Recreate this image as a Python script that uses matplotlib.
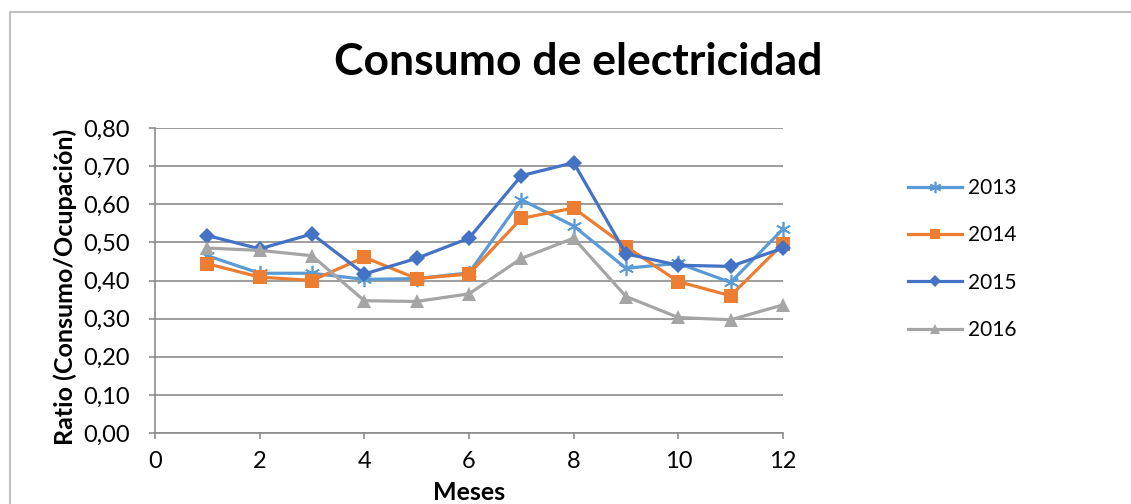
import matplotlib
matplotlib.use("Agg")
import matplotlib.pyplot as plt
from matplotlib.lines import Line2D
from matplotlib.ticker import FuncFormatter, MultipleLocator

# ---- data ----
months = [1, 2, 3, 4, 5, 6, 7, 8, 9, 10, 11, 12]
s2013 = [0.465, 0.419, 0.419, 0.403, 0.405, 0.420, 0.612, 0.543, 0.432, 0.445, 0.395, 0.535]
s2014 = [0.444, 0.409, 0.400, 0.461, 0.405, 0.417, 0.563, 0.590, 0.489, 0.397, 0.360, 0.496]
s2015 = [0.518, 0.483, 0.522, 0.417, 0.458, 0.511, 0.675, 0.709, 0.470, 0.440, 0.437, 0.485]
s2016 = [0.485, 0.479, 0.465, 0.347, 0.345, 0.365, 0.458, 0.511, 0.358, 0.303, 0.297, 0.336]
series_labels = ["2013", "2014", "2015", "2016"]
title = "Consumo de electricidad"
xlabel = "Meses"
ylabel = "Ratio (Consumo/Ocupación)"

W, H = 1131, 504
DPI = 100
fig = plt.figure(figsize=(W / DPI, H / DPI), dpi=DPI)
fig.patch.set_facecolor("white")

FONT = "Lato"

# outer chart frame (top and left visible)
fig.add_artist(Line2D([10 / W, 10 / W, 1.0], [0.0, 1 - 12 / H, 1 - 12 / H],
                      transform=fig.transFigure, color="#BFBFBF", lw=1.5))

ax_l, ax_r, ax_t, ax_b = 155, 783, 128, 433
ax = fig.add_axes([ax_l / W, 1 - ax_b / H, (ax_r - ax_l) / W, (ax_b - ax_t) / H])

colors = ["#5B9BD5", "#ED7D31", "#4472C4", "#A5A5A5"]
markers = [(6, 2, 0), "s", "D", "^"]
msizes = [11, 10.5, 8, 10.5]
mews = [1.2, 0, 0, 0]
data = [s2013, s2014, s2015, s2016]
for vals, c, m, ms, mew, lab in zip(data, colors, markers, msizes, mews, series_labels):
    ax.plot(months, vals, color=c, lw=2.3, marker=m, markersize=ms,
            markeredgewidth=mew, markeredgecolor=c, markerfacecolor=c, label=lab,
            solid_joinstyle="round", clip_on=False, zorder=3)

ax.set_xlim(0, 12)
ax.set_ylim(0, 0.8)
ax.xaxis.set_major_locator(MultipleLocator(2))
ax.yaxis.set_major_locator(MultipleLocator(0.1))
ax.yaxis.set_major_formatter(FuncFormatter(lambda v, p: f"{v:.2f}".replace(".", ",")))

ax.grid(axis="y", color="#8C8C8C", lw=1.2, zorder=0)
ax.set_axisbelow(True)
for s in ["top", "right"]:
    ax.spines[s].set_visible(False)
for s in ["left", "bottom"]:
    ax.spines[s].set_color("#8C8C8C")
    ax.spines[s].set_linewidth(1.2)

ax.tick_params(axis="both", direction="out", length=4, width=1.2, color="#8C8C8C",
               labelsize=17, labelcolor="black")
ax.tick_params(axis="y", pad=14)
ax.tick_params(axis="x", pad=9)
for lbl in ax.get_xticklabels() + ax.get_yticklabels():
    lbl.set_family(FONT)

fig.text(469 / W, 1 - 492 / H, xlabel, ha="center", va="center",
         fontsize=18, fontweight="bold", family=FONT)

fig.text(65 / W, 1 - 287 / H, ylabel, rotation=90, ha="center", va="center",
         fontsize=18, fontweight="bold", family=FONT)

fig.text(578 / W, 1 - 62 / H, title, ha="center", va="center",
         fontsize=32, fontweight="bold", family=FONT)

leg = ax.legend(loc="upper left", bbox_to_anchor=(908 / W, 1 - 178 / H),
                bbox_transform=fig.transFigure, frameon=False,
                prop={"family": FONT, "size": 15},
                handlelength=2.6, handletextpad=0.3, labelspacing=1.31,
                borderpad=0, borderaxespad=0, markerscale=0.75)

fig.savefig("out.png", dpi=DPI, facecolor="white")
